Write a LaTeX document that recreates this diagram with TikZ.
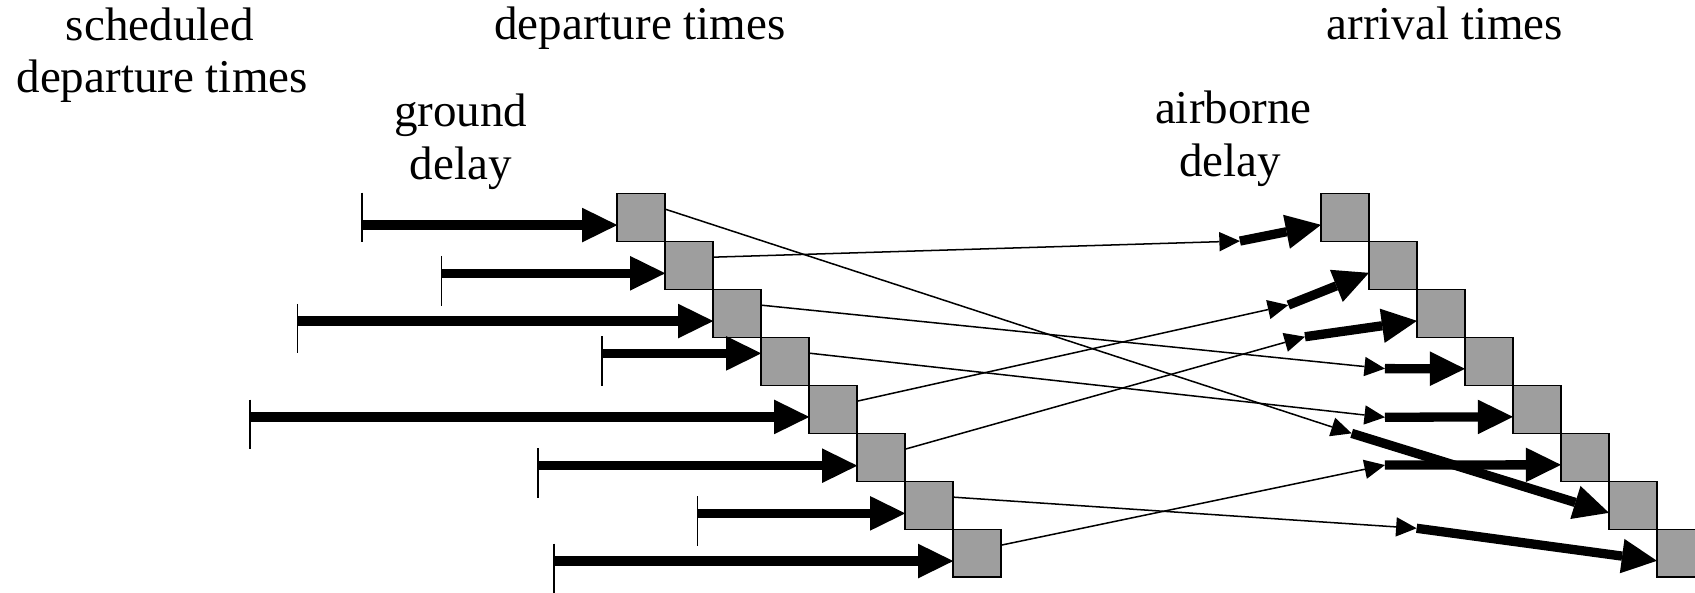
\documentclass[tikz,border=0pt]{standalone}
\usepackage{fontspec}
\setmainfont{Liberation Serif}
\usetikzlibrary{arrows.meta,calc}
\definecolor{boxgray}{RGB}{158,158,158}
\begin{document}
\begin{tikzpicture}[x=1pt,y=-1pt,
  slot/.style={rectangle,draw=black,line width=1.8pt,fill=boxgray,minimum width=44.4pt,minimum height=44.4pt,inner sep=0pt,outer sep=0pt},
  lbl/.style={font=\fontsize{43.5}{50}\selectfont,inner sep=0pt,anchor=base},
  ground/.style={line width=8.6pt,-{Triangle[length=32.5pt,width=32pt,line width=0pt]}},
  airborne/.style={line width=8.6pt,-{Triangle[length=32.5pt,width=32pt,line width=0pt]}},
  flight/.style={line width=1.4pt,-{Triangle[length=19pt,width=18pt,line width=0pt]}},
  tickmark/.style={line width=1.4pt},
]
\clip (0,0) rectangle (1568,548);
% labels
\node[lbl] (sched1) at (148,37.6) {scheduled};
\node[lbl] (sched2) at (150,85.3) {departure times};
\node[lbl] (dep) at (592,37) {departure times};
\node[lbl] (arr) at (1336.6,37) {arrival times};
\node[lbl] (gd1) at (426.3,117.2) {ground};
\node[lbl] (gd2) at (426.3,166.5) {delay};
\node[lbl] (ad1) at (1141,114.1) {airborne};
\node[lbl] (ad2) at (1138,163.4) {delay};
% departure boxes
\node[slot] (d1) at (593.2,201.2) {};
\node[slot] (d2) at (637.6,245.6) {};
\node[slot] (d3) at (682,290) {};
\node[slot] (d4) at (726.4,334.4) {};
\node[slot] (d5) at (770.8,378.8) {};
\node[slot] (d6) at (815.2,423.2) {};
\node[slot] (d7) at (859.6,467.6) {};
\node[slot] (d8) at (904,512) {};
% arrival boxes
\node[slot] (a1) at (1244.2,201.2) {};
\node[slot] (a2) at (1288.6,245.6) {};
\node[slot] (a3) at (1333,290) {};
\node[slot] (a4) at (1377.4,334.4) {};
\node[slot] (a5) at (1421.8,378.8) {};
\node[slot] (a6) at (1466.2,423.2) {};
\node[slot] (a7) at (1510.6,467.6) {};
\node[slot] (a8) at (1555,512) {};
% scheduled departure ticks
\coordinate (t1) at (334.8,208.2);
\coordinate (t2) at (408.6,252.8);
\coordinate (t3) at (275.4,297);
\coordinate (t4) at (556.9,326.9);
\coordinate (t5) at (231.2,385.7);
\coordinate (t6) at (497.8,430.8);
\coordinate (t7) at (645.4,474.9);
\coordinate (t8) at (512.6,519);
\draw[tickmark] ($(t1)+(0,-30)$) -- ($(t1)+(0,15.4)$);
\foreach \t in {t2,t3,t4,t5,t6,t7,t8}
  \draw[tickmark] ($(\t)+(0,-16)$) -- ($(\t)+(0,30)$);
% ground delays
\draw[ground] (t1) -- (t1 -| d1.west);
\draw[ground] (t2) -- (t2 -| d2.west);
\draw[ground] (t3) -- (t3 -| d3.west);
\draw[ground] (t4) -- (t4 -| d4.west);
\draw[ground] (t5) -- (t5 -| d5.west);
\draw[ground] (t6) -- (t6 -| d6.west);
\draw[ground] (t7) -- (t7 -| d7.west);
\draw[ground] (t8) -- (t8 -| d8.west);
% en-route ends (start of airborne delay)
\coordinate (m1) at (1147,223);
\coordinate (m2) at (1191.8,282.2);
\coordinate (m3) at (1207.2,311.5);
\coordinate (m4) at (1281.2,341);
\coordinate (m5) at (1281.2,386);
\coordinate (m6) at (1281.2,430.2);
\coordinate (m7) at (1250.4,400.9);
\coordinate (m8) at (1310.5,488.7);
% flights
\draw[flight] ([yshift=7.7pt]d1.east) -- (m7);
\draw[flight] ([yshift=7.7pt]d2.east) -- (m1);
\draw[flight] ([yshift=7.7pt]d3.east) -- (m4);
\draw[flight] ([yshift=7.7pt]d4.east) -- (m5);
\draw[flight] ([yshift=7.7pt]d5.east) -- (m2);
\draw[flight] ([yshift=7.7pt]d6.east) -- (m3);
\draw[flight] ([yshift=7.7pt]d7.east) -- (m8);
\draw[flight] ([yshift=7.7pt]d8.east) -- (m6);
% airborne delays
\draw[airborne] (m1) -- ([yshift=-6.8pt]a1.west);
\draw[airborne] (m2) -- ([yshift=-6.8pt]a2.west);
\draw[airborne] (m3) -- ([yshift=-6.8pt]a3.west);
\draw[airborne] (m4) -- ([yshift=-6.8pt]a4.west);
\draw[airborne] (m5) -- ([yshift=-6.8pt]a5.west);
\draw[airborne] (m6) -- ([yshift=-6.8pt]a6.west);
\draw[airborne] (m7) -- ([yshift=-6.8pt]a7.west);
\draw[airborne] (m8) -- ([yshift=-6.8pt]a8.west);
\end{tikzpicture}
\end{document}
